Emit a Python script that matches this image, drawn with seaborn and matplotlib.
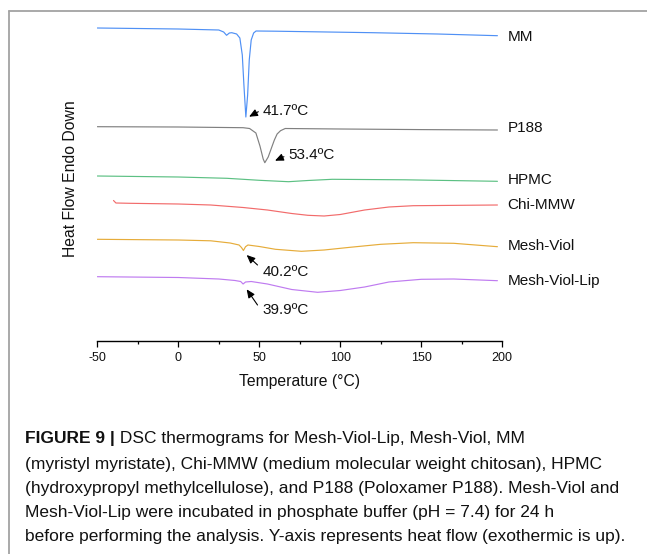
import numpy as np
import pandas as pd
import matplotlib
matplotlib.use("Agg")
import matplotlib.pyplot as plt
from matplotlib.lines import Line2D
import seaborn as sns

# DSC traces (temperature in °C, heat flow in arbitrary units, exo up)
mm_t = [-50, 0, 25, 28, 29.8, 31.5, 33, 36, 38, 39.5, 40.5, 41.7, 42.8, 43.8, 45, 46.5, 48, 60, 120, 160, 197]
mm_hf = [-2.80, -2.90, -3.00, -3.20, -3.53, -3.30, -3.27, -3.40, -3.80, -5.50, -8.50, -11.70, -9.50,
         -6.00, -4.00, -3.30, -3.10, -3.12, -3.27, -3.40, -3.57]

p188_t = [-50, 0, 40, 44, 47.9, 50.4, 52.4, 53.4, 55.5, 57.5, 59.3, 61, 63.1, 66, 100, 150, 197]
p188_hf = [-12.67, -12.70, -12.77, -12.85, -13.30, -14.60, -15.90, -16.27, -15.70, -14.80, -14.00,
           -13.40, -13.07, -12.85, -12.90, -12.96, -13.00]

hpmc_t = [-50, 0, 30, 50, 68, 80, 95, 140, 197]
hpmc_hf = [-17.60, -17.70, -17.83, -18.03, -18.17, -18.05, -17.93, -17.98, -18.13]

chi_t = [-40, -38.5, -30, 0, 20, 40, 55, 70, 80, 90, 100, 115, 130, 145, 197]
chi_hf = [-20.05, -20.30, -20.33, -20.40, -20.50, -20.75, -21.00, -21.35, -21.53, -21.60, -21.45,
          -21.00, -20.70, -20.57, -20.50]

viol_t = [-50, 0, 20, 32, 37.5, 39, 40.2, 41.5, 43, 50, 60, 76, 90, 106, 125, 145, 170, 197]
viol_hf = [-23.93, -24.00, -24.08, -24.30, -24.50, -24.75, -25.05, -24.67, -24.50, -24.65, -24.93,
           -25.13, -25.00, -24.73, -24.43, -24.27, -24.33, -24.67]

lip_t = [-50, 0, 25, 35, 38.5, 40, 41.5, 45, 55, 70, 86, 100, 115, 130, 150, 170, 197]
lip_hf = [-27.67, -27.75, -27.90, -28.05, -28.15, -28.40, -28.20, -28.15, -28.40, -28.95, -29.23,
          -29.05, -28.70, -28.20, -27.93, -27.90, -28.07]

names = ["MM", "P188", "HPMC", "Chi-MMW", "Mesh-Viol", "Mesh-Viol-Lip"]
colors = ["#4f90f5", "#808080", "#5cc083", "#f26b6b", "#e6ac3a", "#bf7bf0"]
label_y = [-3.73, -12.77, -18.0, -20.5, -24.6, -28.07]

peak_labels = ["41.7ºC", "53.4ºC", "40.2ºC", "39.9ºC"]
peak_text_xy = [(52.0, -11.07), (67.7, -15.5), (52.0, -27.17), (52.0, -31.0)]
arrow_tail = [(49.4, -11.17), (65.2, -15.67), (48.9, -26.5), (48.9, -30.5)]
arrow_head = [(43.7, -11.67), (59.7, -16.07), (42.2, -25.5), (42.2, -28.93)]

caption = [
    "DSC thermograms for Mesh-Viol-Lip, Mesh-Viol, MM",
    "(myristyl myristate), Chi-MMW (medium molecular weight chitosan), HPMC",
    "(hydroxypropyl methylcellulose), and P188 (Poloxamer P188). Mesh-Viol and",
    "Mesh-Viol-Lip were incubated in phosphate buffer (pH = 7.4) for 24 h",
    "before performing the analysis. Y-axis represents heat flow (exothermic is up).",
]

traces = [(mm_t, mm_hf), (p188_t, p188_hf), (hpmc_t, hpmc_hf),
          (chi_t, chi_hf), (viol_t, viol_hf), (lip_t, lip_hf)]
frames = []
for name, (t, hf) in zip(names, traces):
    frames.append(pd.DataFrame({"Temperature": t, "HeatFlow": hf, "Sample": name}))
df = pd.concat(frames, ignore_index=True)

sns.set_theme(style="white")
plt.rcParams["font.family"] = ["Liberation Sans", "DejaVu Sans"]
plt.rcParams["axes.unicode_minus"] = False
plt.rcParams["text.color"] = "#111111"
plt.rcParams["axes.labelcolor"] = "#111111"
plt.rcParams["xtick.color"] = "#111111"

W, H = 647, 554
fig = plt.figure(figsize=(W / 100, H / 100), dpi=100)
ax = fig.add_axes([97.3 / W, 1 - 340.7 / H, 405 / W, 325.7 / H])

for name, col in zip(names, colors):
    sub = df[df["Sample"] == name]
    sns.lineplot(data=sub, x="Temperature", y="HeatFlow", color=col, linewidth=0.85,
                 estimator=None, legend=False, ax=ax)

for name, y in zip(names, label_y):
    ax.text(203.2, y, name, fontsize=11, ha="left", va="center", clip_on=False)

for lab, txy, tail, head in zip(peak_labels, peak_text_xy, arrow_tail, arrow_head):
    ax.text(txy[0], txy[1], lab, fontsize=11, ha="left", va="center")
    ax.annotate("", xy=head, xytext=tail,
                arrowprops=dict(arrowstyle="-|>,head_length=0.5,head_width=0.22",
                                color="black", lw=0.8, mutation_scale=10,
                                shrinkA=0, shrinkB=0))

ax.set_xlim(-50, 200)
ax.set_ylim(-34.07, -1.5)
ax.set_xticks([-50, 0, 50, 100, 150, 200])
ax.set_xticks([-25, 25, 75, 125, 175], minor=True)
ax.set_yticks([])
for s in ["top", "right", "left"]:
    ax.spines[s].set_visible(False)
ax.spines["bottom"].set_color("black")
ax.spines["bottom"].set_linewidth(1.0)
ax.tick_params(axis="x", which="major", direction="out", length=4.3, width=0.9,
               color="black", labelsize=9, pad=4, bottom=True)
ax.tick_params(axis="x", which="minor", direction="out", length=2.4, width=0.9,
               color="black", bottom=True)

ax.set_xlabel("Temperature (°C)", fontsize=11.3, va="center")
ax.xaxis.set_label_coords(0.5, -0.126)
ax.set_ylabel("Heat Flow Endo Down", fontsize=11.3, va="center")
ax.yaxis.set_label_coords(-0.0674, 0.4965)

# frame around the figure panel
fig.add_artist(Line2D([9 / W, 1], [1 - 11 / H, 1 - 11 / H], transform=fig.transFigure,
                      color="#a3a3a3", lw=1.3))
fig.add_artist(Line2D([9 / W, 9 / W], [0, 1 - 11 / H], transform=fig.transFigure,
                      color="#a3a3a3", lw=1.3))

line_y = [439, 464, 488, 512, 537]
head_txt = fig.text(25 / W, 1 - line_y[0] / H, "FIGURE 9 |", fontsize=12.5,
                    fontweight="bold", ha="left", va="center")
ax.annotate(" " + caption[0], xy=(1, 0.5), xycoords=head_txt, fontsize=12.5,
            ha="left", va="center", annotation_clip=False)
for txt, y in zip(caption[1:], line_y[1:]):
    fig.text(25 / W, 1 - y / H, txt, fontsize=12.5, ha="left", va="center")

fig.savefig("out.png", dpi=100)
